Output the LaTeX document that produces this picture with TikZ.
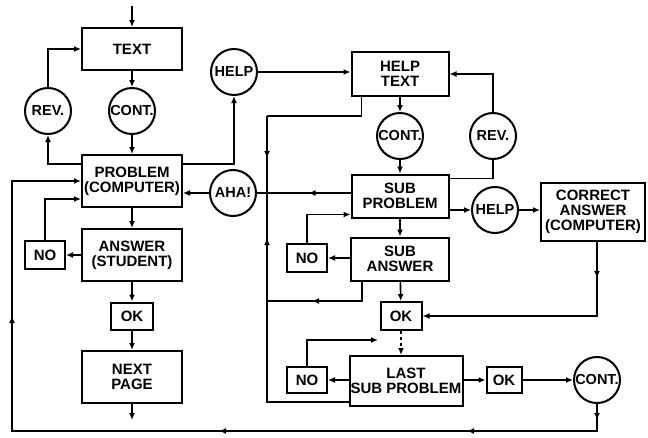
\documentclass[tikz,border=0pt]{standalone}
\usepackage{fontspec}
\setmainfont{Liberation Sans}
\usetikzlibrary{arrows.meta,positioning,calc,decorations.markings}

\begin{document}
\begin{tikzpicture}[x=1pt, y=-1pt,
    block/.style={draw, line width=2pt, minimum width=100pt, minimum height=52pt,
        inner sep=0pt, align=center, font=\bfseries\fontsize{15}{15}\selectfont},
    tag/.style={block, minimum width=40pt, minimum height=28pt},
    bubble/.style={circle, draw, line width=2pt, minimum size=46pt, inner sep=0,
        font=\bfseries\fontsize{14.5}{15}\selectfont},
    plain/.style={line width=1.6pt},
    link/.style={plain, -{Latex[length=7pt,width=6pt]}},
    tips/.style={postaction={decorate, decoration={markings,
        mark=at position #1 with {\arrow{Latex[length=7pt,width=6pt]}}}}}
]
\useasboundingbox (0,0) rectangle (648,437);

% Main lesson column
\node[block, minimum height=42pt] (text) at (132,49) {TEXT};
\node[bubble] (rev1) at (48,111) {REV.};
\node[bubble] (cont1) at (132,111) {CONT.};
\node[block] (prob) at (132,181) {PROBLEM\\(COMPUTER)};
\node[block] (ans) at (132,255) {ANSWER\\(STUDENT)};
\node[tag] (no1) at (45,255) {NO};
\node[tag, minimum width=42pt, minimum height=27pt] (ok1) at (132,316) {OK};
\node[block] (next) at (132,377) {NEXT\\PAGE};
\node[bubble] (help1) at (234,72) {HELP};
\node[bubble] (aha) at (233,193) {AHA!};

% Help branch
\node[block, minimum width=97pt, minimum height=44pt] (htext) at (400,74) {HELP\\TEXT};
\node[bubble] (cont2) at (400,136) {CONT.};
\node[bubble] (rev2) at (493,136) {REV.};
\node[block, minimum width=97pt, minimum height=43pt] (sprob) at (400,196) {SUB\\PROBLEM};
\node[bubble] (help2) at (495,210) {HELP};
\node[block, minimum width=104pt, minimum height=58pt] (corr) at (593,212) {CORRECT\\ANSWER\\(COMPUTER)};
\node[block, minimum width=98pt, minimum height=43pt] (sans) at (400,259) {SUB\\ANSWER};
\node[tag] (no2) at (307,258) {NO};
\node[tag, minimum width=41pt] (ok2) at (401,316) {OK};
\node[block, minimum width=113pt, minimum height=50pt] (last) at (406,381) {LAST\\SUB PROBLEM};
\node[tag, minimum height=26pt] (no3) at (307,380) {NO};
\node[tag, minimum width=35pt, minimum height=26pt] (ok3) at (504,380) {OK};
\node[bubble] (cont3) at (597,380) {CONT.};

% Free ends and joints
\coordinate (in) at (132,6);
\coordinate (out) at (132,420);
\coordinate (loose) at (378,340);
\coordinate (jtop) at (267,116);
\coordinate (jaha) at (267,193);
\coordinate (jans) at (267,301);
\coordinate (base) at (12,431);

% Main lesson flow
\draw[link] (in) -- (text);
\draw[link] (text) -- (cont1);
\draw[link] (cont1) -- (prob);
\draw[link] ([yshift=-10pt]prob.north west) -| (rev1);
\draw[link] (rev1) |- (text);
\draw[link] ([yshift=-10pt]prob.north east) -| (help1);
\draw[link] (help1) -- (help1 -| htext.west);
\draw[link] (aha) -- (aha -| prob.east);
\draw[link] (prob) -- (ans);
\draw[link] (ans) -- (ok1);
\draw[link] (ok1) -- (next);
\draw[link] (next) -- (out);
\draw[link] (ans.west |- no1) -- (no1);
\draw[link] (no1) |- ([yshift=9pt]prob.south west);

% Help branch flow
\draw[plain, tips=42pt] (aha -| sprob.west) -- (aha);
\draw[plain] ([xshift=11pt]htext.south west) |- (jtop);
\draw[plain, tips=42pt] (jtop) -- (jaha);
\draw[plain, tips=-45pt] ([yshift=5pt]last.south west) -| (jaha);
\draw[plain, tips=-45pt] ([xshift=12pt]sans.south west) |- (jans);
\draw[link] (htext) -- (cont2);
\draw[link] (cont2) -- (sprob);
\draw[plain] ([yshift=-5pt]sprob.north east) -| (rev2);
\draw[link] (rev2) |- (htext);
\draw[link] (sprob.east |- help2) -- (help2);
\draw[link] (help2) -- (help2 -| corr.west);
\draw[link, tips=36pt] ([xshift=4pt]corr.south) |- (ok2);
\draw[link] (sprob) -- (sans);
\draw[link] (sans.west |- no2) -- (no2);
\draw[link] (no2) |- ([yshift=4pt]sprob.south west);
\draw[link] (sans) -- (ok2);
\draw[link, dash pattern=on 3pt off 3pt] (ok2) -- (ok2 |- last.north);
\draw[link] (last.west |- no3) -- (no3);
\draw[link] (no3) |- (loose);
\draw[link] (last.east |- ok3) -- (ok3);
\draw[link] (ok3) -- (cont3);
\draw[link, tips=16pt, tips=157pt, tips=405pt, tips=727pt] (cont3) |- (base) |- (prob);
\end{tikzpicture}
\end{document}
